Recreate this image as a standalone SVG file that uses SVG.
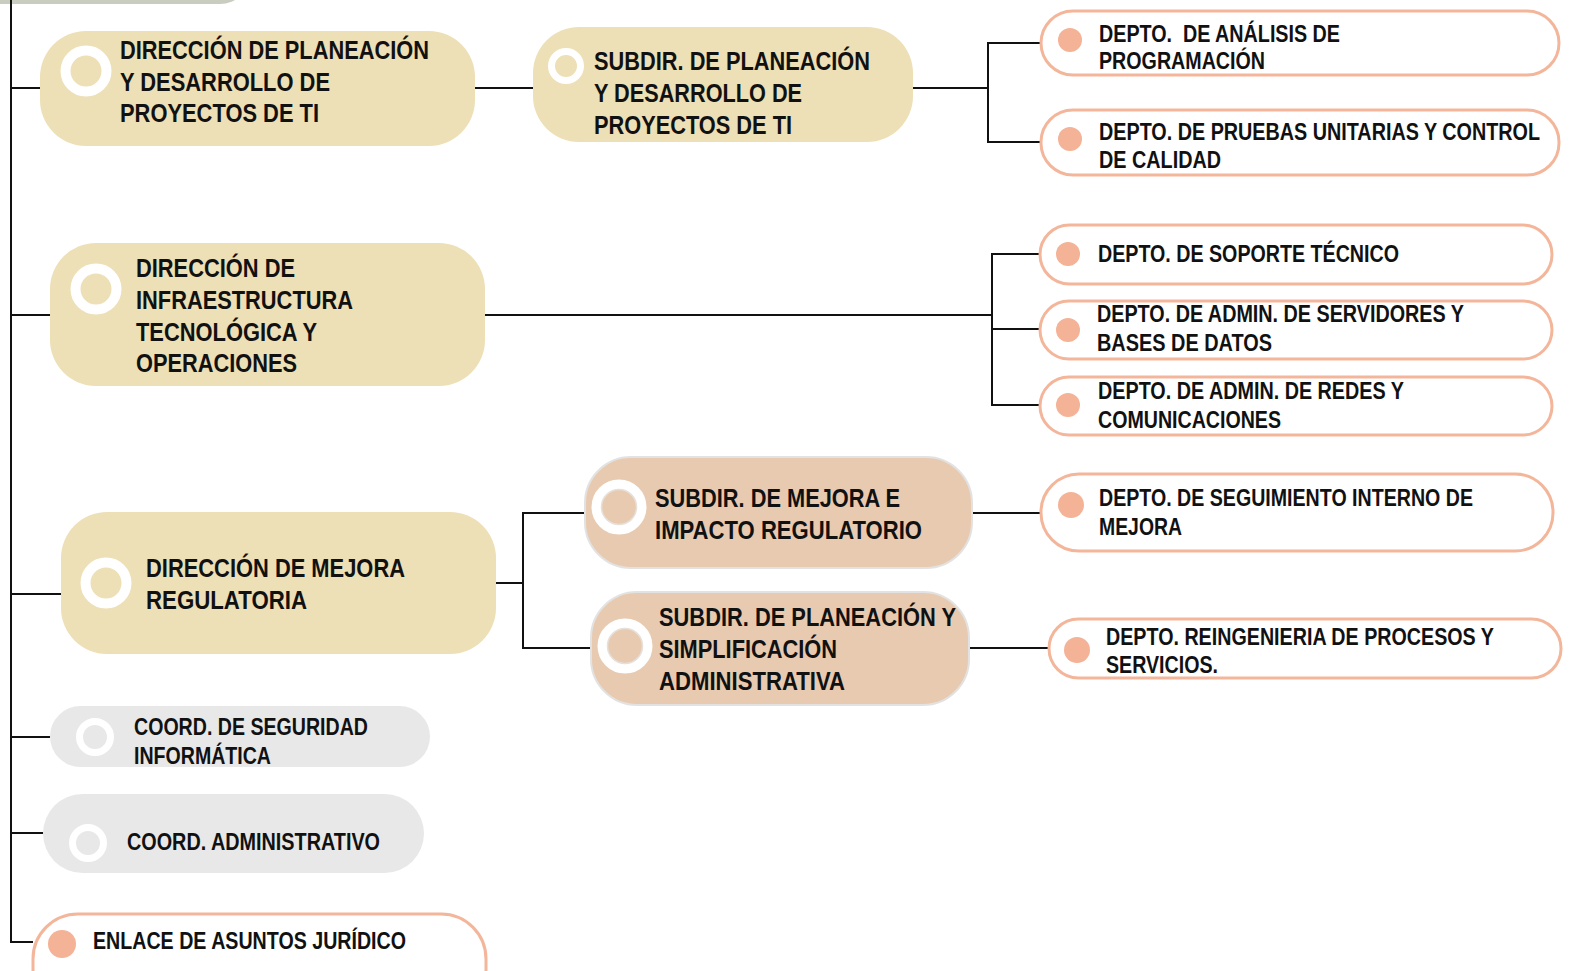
<svg xmlns="http://www.w3.org/2000/svg" width="1570" height="971" viewBox="0 0 1570 971">
<style>
text{font-family:"Liberation Sans Narrow","Liberation Sans",Arial,sans-serif;font-weight:bold;fill:#111;}
.big{font-size:25px;}
.sm{font-size:23px;}
.dir{fill:#eddfb6;}
.sub{fill:#e8cab0;stroke:#e2e2e2;stroke-width:2;}
.dep{fill:#fff;stroke:#f4b69a;stroke-width:3;}
.crd{fill:#e8e8e8;}
.dot{fill:#f4b297;}
.conn{fill:none;stroke:#111;stroke-width:2;}
</style>
<rect x="-30" y="-60" width="280" height="64" rx="30" fill="#c9cdbf"/>
<g id="connectors" class="conn">
<path d="M11 0V942H33"/>
<path d="M11 88H40"/>
<path d="M11 315H50"/>
<path d="M11 594H62V582"/>
<path d="M11 737H50"/>
<path d="M11 833H43"/>
<path d="M475 88H533"/>
<path d="M913 88H988M1040 43H988V142H1040"/>
<path d="M485 315H992M1040 254H992V405H1040M992 329H1040"/>
<path d="M496 583H523M585 513H523V648H591"/>
<path d="M972 513H1040"/>
<path d="M969 648H1048"/>
</g>
<g id="dir-planeacion">
<rect class="dir" x="40" y="31" width="435" height="115" rx="46"/>
<circle cx="86" cy="71" r="20.5" fill="#eddfb6" stroke="#fff" stroke-width="10"/>
<text class="big" x="120" y="59" textLength="309" lengthAdjust="spacingAndGlyphs">DIRECCIÓN DE PLANEACIÓN</text>
<text class="big" x="120" y="91" textLength="210" lengthAdjust="spacingAndGlyphs">Y DESARROLLO DE</text>
<text class="big" x="120" y="122" textLength="199" lengthAdjust="spacingAndGlyphs">PROYECTOS DE TI</text>
</g>
<g id="subdir-planeacion">
<rect class="dir" x="533" y="27" width="380" height="115" rx="46"/>
<circle cx="566" cy="66" r="14.5" fill="#eddfb6" stroke="#fff" stroke-width="7"/>
<text class="big" x="594" y="70" textLength="276" lengthAdjust="spacingAndGlyphs">SUBDIR. DE PLANEACIÓN</text>
<text class="big" x="594" y="102" textLength="208" lengthAdjust="spacingAndGlyphs">Y DESARROLLO DE</text>
<text class="big" x="594" y="134" textLength="198" lengthAdjust="spacingAndGlyphs">PROYECTOS DE TI</text>
</g>
<g id="depto-analisis">
<rect class="dep" x="1041" y="11" width="518" height="64" rx="32"/>
<circle class="dot" cx="1070" cy="40" r="12"/>
<text class="sm" x="1099" y="42" textLength="241" lengthAdjust="spacingAndGlyphs" xml:space="preserve">DEPTO.  DE ANÁLISIS DE</text>
<text class="sm" x="1099" y="69" textLength="166" lengthAdjust="spacingAndGlyphs">PROGRAMACIÓN</text>
</g>
<g id="depto-pruebas">
<rect class="dep" x="1041" y="110" width="518" height="65" rx="32"/>
<circle class="dot" cx="1070" cy="139" r="12"/>
<text class="sm" x="1099" y="140" textLength="441" lengthAdjust="spacingAndGlyphs">DEPTO. DE PRUEBAS UNITARIAS Y CONTROL</text>
<text class="sm" x="1099" y="168" textLength="122" lengthAdjust="spacingAndGlyphs">DE CALIDAD</text>
</g>
<g id="dir-infraestructura">
<rect class="dir" x="50" y="243" width="435" height="143" rx="46"/>
<circle cx="96" cy="289" r="20.5" fill="#eddfb6" stroke="#fff" stroke-width="10"/>
<text class="big" x="136" y="277" textLength="159" lengthAdjust="spacingAndGlyphs">DIRECCIÓN DE</text>
<text class="big" x="136" y="309" textLength="217" lengthAdjust="spacingAndGlyphs">INFRAESTRUCTURA</text>
<text class="big" x="136" y="341" textLength="181" lengthAdjust="spacingAndGlyphs">TECNOLÓGICA Y</text>
<text class="big" x="136" y="372" textLength="161" lengthAdjust="spacingAndGlyphs">OPERACIONES</text>
</g>
<g id="depto-soporte">
<rect class="dep" x="1040" y="225" width="512" height="59" rx="29.5"/>
<circle class="dot" cx="1068" cy="254" r="12"/>
<text class="sm" x="1098" y="262" textLength="301" lengthAdjust="spacingAndGlyphs">DEPTO. DE SOPORTE TÉCNICO</text>
</g>
<g id="depto-servidores">
<rect class="dep" x="1040" y="301" width="512" height="58" rx="29"/>
<circle class="dot" cx="1068" cy="330" r="12"/>
<text class="sm" x="1097" y="322" textLength="367" lengthAdjust="spacingAndGlyphs">DEPTO. DE ADMIN. DE SERVIDORES Y</text>
<text class="sm" x="1097" y="351" textLength="175" lengthAdjust="spacingAndGlyphs">BASES DE DATOS</text>
</g>
<g id="depto-redes">
<rect class="dep" x="1040" y="377" width="512" height="58" rx="29"/>
<circle class="dot" cx="1068" cy="405" r="12"/>
<text class="sm" x="1098" y="399" textLength="306" lengthAdjust="spacingAndGlyphs">DEPTO. DE ADMIN. DE REDES Y</text>
<text class="sm" x="1098" y="428" textLength="183" lengthAdjust="spacingAndGlyphs">COMUNICACIONES</text>
</g>
<g id="dir-mejora">
<rect class="dir" x="61" y="512" width="435" height="142" rx="46"/>
<circle cx="106" cy="583" r="20.5" fill="#eddfb6" stroke="#fff" stroke-width="10"/>
<text class="big" x="146" y="577" textLength="259" lengthAdjust="spacingAndGlyphs">DIRECCIÓN DE MEJORA</text>
<text class="big" x="146" y="609" textLength="161" lengthAdjust="spacingAndGlyphs">REGULATORIA</text>
</g>
<g id="subdir-mejora">
<rect class="sub" x="585" y="457" width="387" height="111" rx="46"/>
<circle cx="619" cy="507" r="22.5" fill="#e8cab0" stroke="#fff" stroke-width="10"/>
<circle cx="619" cy="507" r="17.5" fill="none" stroke="#e6e0da" stroke-width="1.5"/>
<text class="big" x="655" y="507" textLength="245" lengthAdjust="spacingAndGlyphs">SUBDIR. DE MEJORA E</text>
<text class="big" x="655" y="539" textLength="267" lengthAdjust="spacingAndGlyphs">IMPACTO REGULATORIO</text>
</g>
<g id="subdir-simplificacion">
<rect class="sub" x="591" y="592" width="378" height="113" rx="46"/>
<circle cx="625" cy="646" r="22.5" fill="#e8cab0" stroke="#fff" stroke-width="10"/>
<circle cx="625" cy="646" r="17.5" fill="none" stroke="#e6e0da" stroke-width="1.5"/>
<text class="big" x="659" y="626" textLength="297" lengthAdjust="spacingAndGlyphs">SUBDIR. DE PLANEACIÓN Y</text>
<text class="big" x="659" y="658" textLength="178" lengthAdjust="spacingAndGlyphs">SIMPLIFICACIÓN</text>
<text class="big" x="659" y="690" textLength="186" lengthAdjust="spacingAndGlyphs">ADMINISTRATIVA</text>
</g>
<g id="depto-seguimiento">
<rect class="dep" x="1041" y="474" width="512" height="77" rx="38"/>
<circle class="dot" cx="1071" cy="505" r="13"/>
<text class="sm" x="1099" y="506" textLength="374" lengthAdjust="spacingAndGlyphs">DEPTO. DE SEGUIMIENTO INTERNO DE</text>
<text class="sm" x="1099" y="535" textLength="83" lengthAdjust="spacingAndGlyphs">MEJORA</text>
</g>
<g id="depto-reingenieria">
<rect class="dep" x="1049" y="619" width="512" height="59" rx="29.5"/>
<circle class="dot" cx="1077" cy="650" r="13"/>
<text class="sm" x="1106" y="645" textLength="388" lengthAdjust="spacingAndGlyphs">DEPTO. REINGENIERIA DE PROCESOS Y</text>
<text class="sm" x="1106" y="673" textLength="112" lengthAdjust="spacingAndGlyphs">SERVICIOS.</text>
</g>
<g id="coord-seguridad">
<rect class="crd" x="50" y="706" width="380" height="61" rx="30.5"/>
<circle cx="95" cy="737" r="15.5" fill="#e8e8e8" stroke="#fff" stroke-width="7"/>
<text class="sm" x="134" y="735" textLength="234" lengthAdjust="spacingAndGlyphs">COORD. DE SEGURIDAD</text>
<text class="sm" x="134" y="764" textLength="137" lengthAdjust="spacingAndGlyphs">INFORMÁTICA</text>
</g>
<g id="coord-administrativo">
<rect class="crd" x="43" y="794" width="381" height="79" rx="39.5"/>
<circle cx="88" cy="843" r="15.5" fill="#e8e8e8" stroke="#fff" stroke-width="7"/>
<text class="sm" x="127" y="850" textLength="253" lengthAdjust="spacingAndGlyphs">COORD. ADMINISTRATIVO</text>
</g>
<g id="enlace-juridico">
<rect class="dep" x="33" y="914" width="453" height="100" rx="45"/>
<circle class="dot" cx="62" cy="944" r="14"/>
<text class="sm" x="93" y="949" textLength="313" lengthAdjust="spacingAndGlyphs">ENLACE DE ASUNTOS JURÍDICO</text>
</g>
</svg>
